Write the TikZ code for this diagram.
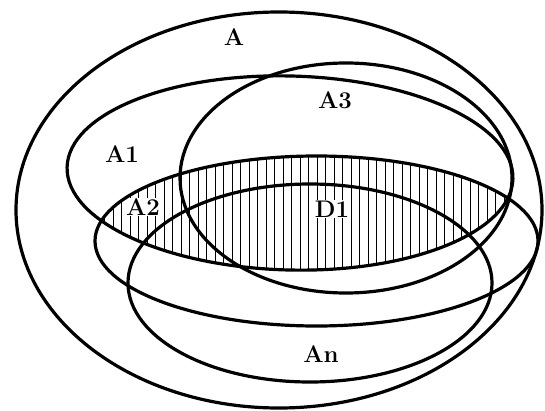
\documentclass[tikz,border=0pt]{standalone}
\usepackage{fontspec}
\begin{document}
\begin{tikzpicture}[x=1pt,y=1pt,
  setline/.style={line width=3.2pt},
  hatchline/.style={line width=1pt},
  lbl/.style={font=\fontsize{24}{24}\selectfont\bfseries, inner sep=1pt},
  lblw/.style={lbl, fill=white}]
\useasboundingbox (0,0) rectangle (545,410);
% centres
\coordinate (cA)  at (279,200);
\coordinate (cA1) at (290,237);
\coordinate (cA3) at (346,232);
\coordinate (cA2) at (316.5,169);
\coordinate (cAn) at (310,127);
% hatching of D1 = A1 intersect A2
\begin{scope}
  \clip (cA1) ellipse [x radius=223, y radius=97, rotate=-1.5];
  \clip (cA2) ellipse [x radius=221.5, y radius=85];
  \foreach \x in {96,104.5,...,540} {
    \draw[hatchline] (\x,60) -- (\x,300);
  }
\end{scope}
% labels
\node[lbl]  (lA)  at (234,372.5) {A};
\node[lbl]  (lA3) at (335,310) {A3};
\node[lbl]  (lA1) at (122,256) {A1};
\node[lblw] (lA2) at (143,203) {A2};
\node[lblw] (lD1) at (332,201) {D1};
\node[lbl]  (lAn) at (321,56) {An};
% sets
\draw[setline] (cA)  ellipse [x radius=263, y radius=198];
\draw[setline] (cA1) ellipse [x radius=223, y radius=97, rotate=-1.5];
\draw[setline] (cA3) ellipse [x radius=166, y radius=115];
\draw[setline] (cA2) ellipse [x radius=221.5, y radius=85];
\draw[setline] (cAn) ellipse [x radius=182, y radius=99];
\end{tikzpicture}
\end{document}
